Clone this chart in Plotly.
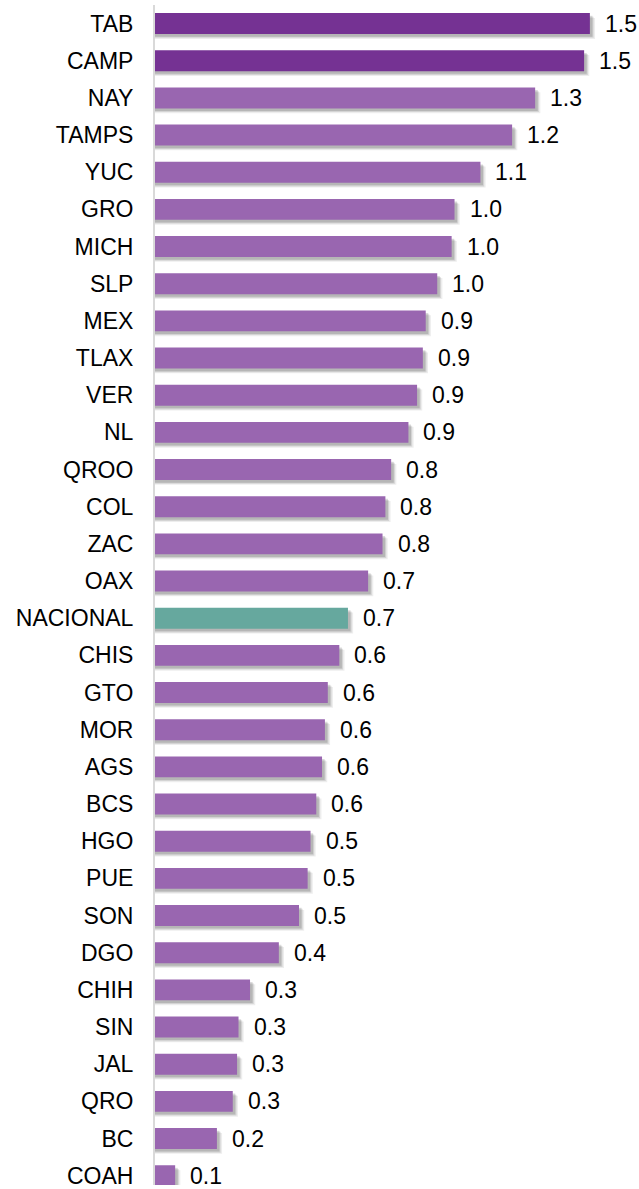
import plotly.graph_objects as go

states = ["TAB", "CAMP", "NAY", "TAMPS", "YUC", "GRO", "MICH", "SLP", "MEX", "TLAX",
          "VER", "NL", "QROO", "COL", "ZAC", "OAX", "NACIONAL", "CHIS", "GTO", "MOR",
          "AGS", "BCS", "HGO", "PUE", "SON", "DGO", "CHIH", "SIN", "JAL", "QRO", "BC", "COAH"]
values = [1.51, 1.49, 1.32, 1.24, 1.13, 1.04, 1.03, 0.98, 0.94, 0.93,
          0.91, 0.88, 0.82, 0.80, 0.79, 0.74, 0.67, 0.64, 0.60, 0.59,
          0.58, 0.56, 0.54, 0.53, 0.50, 0.43, 0.33, 0.29, 0.285, 0.27, 0.215, 0.07]

DARK = "#753293"
LIGHT = "#9966B0"
TEAL = "#66A89E"
colors = [DARK if i < 2 else (TEAL if s == "NACIONAL" else LIGHT) for i, s in enumerate(states)]

FONT = "Arial, Liberation Sans, sans-serif"
W = 0.563
fig = go.Figure()

# soft drop shadow layers
for k, (dx, dy, a) in enumerate([(0.018, 0.13, 0.07), (0.013, 0.10, 0.10), (0.009, 0.07, 0.14)]):
    fig.add_trace(go.Bar(
        y=states, x=[v + dx for v in values], orientation="h",
        width=W, offset=-W / 2 + dy,
        marker=dict(color=f"rgba(0,0,0,{a})", line=dict(width=0)),
        hoverinfo="skip", showlegend=False,
    ))

fig.add_trace(go.Bar(
    y=states, x=values, orientation="h",
    width=W, offset=-W / 2,
    marker=dict(color=colors, line=dict(width=0)),
    showlegend=False,
))

for s, v in zip(states, values):
    fig.add_annotation(x=v, y=s, text=f"{v:.1f}", showarrow=False,
                       xanchor="left", yanchor="middle", xshift=13,
                       font=dict(family=FONT, size=23, color="#000000"))

fig.update_layout(
    width=639, height=1189,
    margin=dict(l=155, r=0, t=5, b=0),
    barmode="overlay",
    paper_bgcolor="white", plot_bgcolor="white",
    xaxis=dict(range=[0, 484 / 288], visible=False, fixedrange=True),
    yaxis=dict(
        categoryorder="array", categoryarray=states,
        range=[31.25, -0.5],
        showline=True, linecolor="#D9D9D9", linewidth=2,
        showgrid=False, ticks="", ticklabelstandoff=15,
        tickfont=dict(family=FONT, size=23, color="#000000"),
        fixedrange=True,
    ),
)

fig.write_html("out.html", config={"displayModeBar": False},
               post_script="document.body.style.margin='0';document.body.style.overflow='hidden';")
